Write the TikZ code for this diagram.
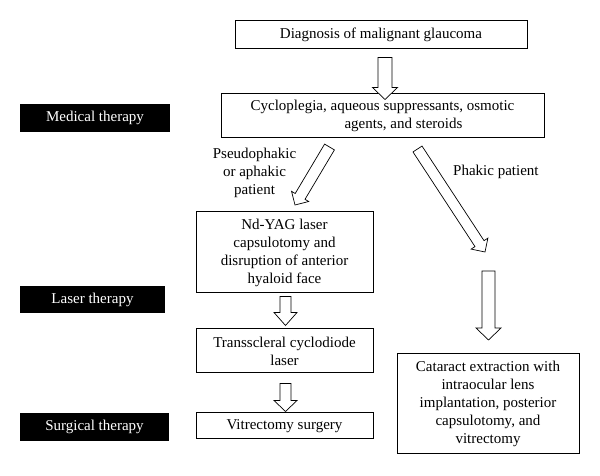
\documentclass[tikz,border=0pt]{standalone}
\usepackage{fontspec}
\setmainfont{Liberation Serif}
\usetikzlibrary{calc}
\tikzset{
  every node/.style={font=\fontsize{15}{18}\selectfont},
  stepbox/.style={draw, line width=1pt, align=center, inner sep=0pt, fill=white},
  phase/.style={fill=black, text=white, align=center, inner sep=0pt},
  lbl/.style={align=center, inner sep=0pt},
  hollowarr/.style={draw, line width=0.7pt, line join=miter, fill=white},
}
\newcommand{\hollowarrow}[5]{%
  \coordinate (hb) at ($(#2)!#5!(#1)$);
  \draw[hollowarr] ($(#1)!#3!90:(#2)$) -- ($(hb)!#3!-90:(#1)$) -- ($(hb)!#4!-90:(#1)$)
    -- (#2) -- ($(hb)!#4!90:(#1)$) -- ($(hb)!#3!90:(#1)$) -- ($(#1)!#3!-90:(#2)$) -- cycle;
}
\begin{document}
\begin{tikzpicture}[x=1pt,y=1pt]
\useasboundingbox (0,0) rectangle (600,476);
% main boxes
\node[stepbox, minimum width=292pt, minimum height=28pt] (diag) at (381,441) {Diagnosis of malignant glaucoma};
\node[stepbox, minimum width=323pt, minimum height=44pt] (cyclo) at (382.5,360) {Cycloplegia, aqueous suppressants, osmotic\\\hspace*{42pt}agents, and steroids};
\node[stepbox, minimum width=177pt, minimum height=81pt] (ndyag) at (284.5,223.5) {Nd-YAG laser\\capsulotomy and\\disruption of anterior\\hyaloid face};
\node[stepbox, minimum width=177pt, minimum height=44pt] (trans) at (284.5,125) {Transscleral cyclodiode\\laser};
\node[stepbox, minimum width=177pt, minimum height=26pt] (vitr) at (284.5,50) {Vitrectomy surgery};
\node[stepbox, minimum width=182pt, minimum height=100pt] (cat) at (488,72) {Cataract extraction with\\intraocular lens\\implantation, posterior\\capsulotomy, and\\vitrectomy};
% phase labels
\node[phase, minimum width=150pt, minimum height=28pt] (med) at (95,358) {Medical therapy};
\node[phase, minimum width=145pt, minimum height=27pt] (las) at (92.5,176.5) {Laser therapy};
\node[phase, minimum width=149pt, minimum height=28pt] (sur) at (94.5,49) {Surgical therapy};
% branch labels
\node[lbl] (pseudo) at (254.5,303) {Pseudophakic\\or aphakic\\patient};
\node[lbl, anchor=west] (phakic) at (453,304) {Phakic patient};
% arrow end points
\coordinate (a1s) at ($(diag.south)+(4,-8)$);
\coordinate (a1e) at ($(cyclo.north)+(2.5,-6)$);
\coordinate (d1s) at (329.5,329);
\coordinate (d1e) at (295,271);
\coordinate (d2s) at (417.5,327);
\coordinate (d2e) at (485,224);
\coordinate (a2s) at ($(ndyag.south)+(1,-3)$);
\coordinate (a2e) at ($(trans.north)+(1,3)$);
\coordinate (a3s) at ($(trans.south)+(1,-10)$);
\coordinate (a3e) at ($(vitr.north)+(1,1)$);
\coordinate (a4s) at (488.5,205);
\coordinate (a4e) at (488.5,136);
% hollow arrows
\hollowarrow{a1s}{a1e}{7pt}{12.5pt}{12pt}
\hollowarrow{d1s}{d1e}{5.7pt}{10pt}{10pt}
\hollowarrow{d2s}{d2e}{5.4pt}{10pt}{10pt}
\hollowarrow{a2s}{a2e}{5.5pt}{11.5pt}{13pt}
\hollowarrow{a3s}{a3e}{5.5pt}{11.5pt}{11pt}
\hollowarrow{a4s}{a4e}{6.5pt}{12.5pt}{12pt}
\end{tikzpicture}
\end{document}
